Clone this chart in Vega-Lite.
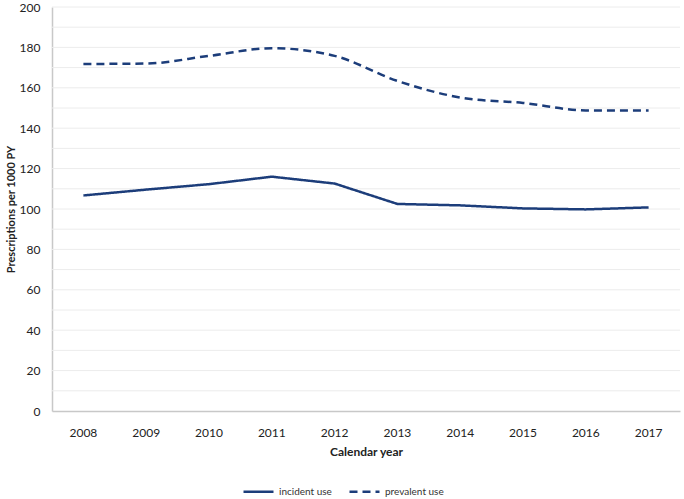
{
  "$schema": "https://vega.github.io/schema/vega-lite/v6.json",
  "autosize": "none",
  "width": 628,
  "height": 404,
  "padding": {"left": 52, "top": 7, "right": 4, "bottom": 88},
  "background": "white",
  "config": {
    "font": "Lato",
    "view": {"stroke": null},
    "axis": {"labelFont": "Lato", "titleFont": "Lato", "labelColor": "#222", "titleColor": "#222"}
  },
  "data": {
    "values": [
      {"year": "2008", "series": "incident use", "value": 106.7},
      {"year": "2009", "series": "incident use", "value": 109.6},
      {"year": "2010", "series": "incident use", "value": 112.3},
      {"year": "2011", "series": "incident use", "value": 116.0},
      {"year": "2012", "series": "incident use", "value": 112.6},
      {"year": "2013", "series": "incident use", "value": 102.5},
      {"year": "2014", "series": "incident use", "value": 101.8},
      {"year": "2015", "series": "incident use", "value": 100.3},
      {"year": "2016", "series": "incident use", "value": 99.8},
      {"year": "2017", "series": "incident use", "value": 100.8},
      {"year": "2008", "series": "prevalent use", "value": 171.8},
      {"year": "2009", "series": "prevalent use", "value": 172.0},
      {"year": "2010", "series": "prevalent use", "value": 175.8},
      {"year": "2011", "series": "prevalent use", "value": 179.6},
      {"year": "2012", "series": "prevalent use", "value": 175.8},
      {"year": "2013", "series": "prevalent use", "value": 163.4},
      {"year": "2014", "series": "prevalent use", "value": 155.2},
      {"year": "2015", "series": "prevalent use", "value": 152.5},
      {"year": "2016", "series": "prevalent use", "value": 148.8},
      {"year": "2017", "series": "prevalent use", "value": 148.8}
    ]
  },
  "encoding": {
    "x": {
      "field": "year", "type": "ordinal",
      "scale": {"type": "band", "paddingInner": 0, "paddingOuter": 0},
      "axis": {
        "title": "Calendar year", "labelAngle": 0, "ticks": false, "grid": false,
        "domainColor": "#c8c8c8", "domainWidth": 1.5,
        "labelFontSize": 12, "labelPadding": 16,
        "titleFontSize": 12, "titleFontWeight": "bold", "titlePadding": 8
      }
    },
    "y": {
      "field": "value", "type": "quantitative",
      "scale": {"domain": [0, 200], "nice": false},
      "axis": {
        "title": "Prescriptions per 1000 PY", "values": [0,20,40,60,80,100,120,140,160,180,200],
        "ticks": false, "grid": false,
        "domainColor": "#c8c8c8", "domainWidth": 1.5,
        "labelFontSize": 12, "labelPadding": 12,
        "titleFontSize": 11, "titleFontWeight": "bold", "titlePadding": 3
      }
    },
    "strokeDash": {
      "field": "series", "type": "nominal",
      "scale": {"domain": ["incident use", "prevalent use"], "range": [[1, 0], [8, 5]]},
      "legend": {
        "title": null, "orient": "none", "direction": "horizontal",
        "legendX": 190, "legendY": 468,
        "symbolType": "stroke", "symbolSize": 900, "symbolStrokeWidth": 2.5,
        "symbolStrokeColor": "#1c3d7a", "labelFontSize": 10, "labelColor": "#333",
        "columnPadding": 12, "labelOffset": 4
      }
    }
  },
  "layer": [
    {
      "data": {"values": [{"g": 10},{"g": 20},{"g": 30},{"g": 40},{"g": 50},{"g": 60},{"g": 70},{"g": 80},{"g": 90},{"g": 100},{"g": 110},{"g": 120},{"g": 130},{"g": 140},{"g": 150},{"g": 160},{"g": 170},{"g": 180},{"g": 190},{"g": 200}]},
      "mark": {"type": "rule", "color": "#ececec", "strokeWidth": 1},
      "encoding": {"y": {"field": "g", "type": "quantitative"}, "x": {"value": 0}, "x2": {"value": 628}, "strokeDash": {"value": [1, 0]}}
    },
    {
      "transform": [{"filter": "datum.series === 'incident use'"}],
      "mark": {"type": "line", "color": "#1c3d7a", "strokeWidth": 2.5, "interpolate": "linear"}
    },
    {
      "transform": [{"filter": "datum.series === 'prevalent use'"}],
      "mark": {"type": "line", "color": "#1c3d7a", "strokeWidth": 2.5, "interpolate": "monotone"}
    }
  ]
}
